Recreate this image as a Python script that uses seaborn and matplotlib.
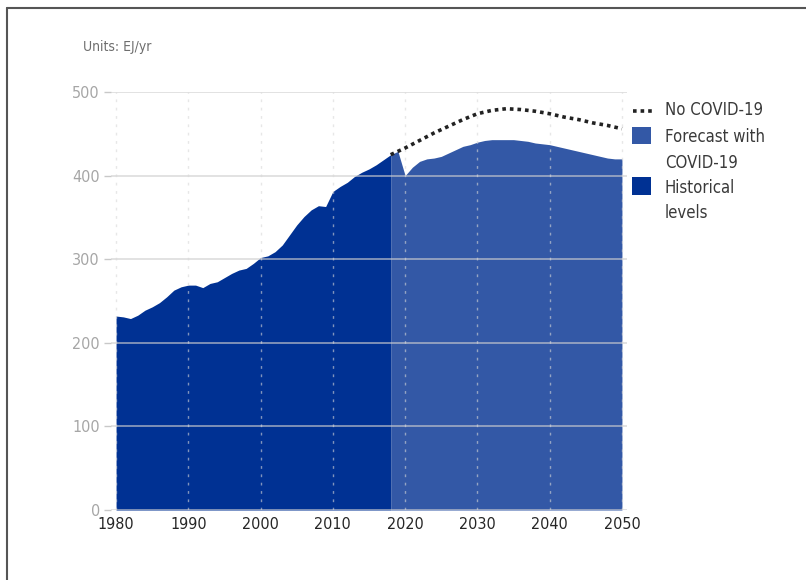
import matplotlib
matplotlib.use("Agg")
import matplotlib.pyplot as plt
from matplotlib.lines import Line2D
from matplotlib.patches import Rectangle
import seaborn as sns
import pandas as pd

# Primary energy demand, EJ/yr
hist_years = list(range(1980, 2019))
hist_values = [232, 231, 229, 233, 239, 243, 248, 255, 263, 267,
               269, 269, 266, 271, 273, 278, 283, 287, 289, 295,
               302, 304, 309, 317, 329, 341, 351, 359, 364, 363,
               381, 387, 392, 399, 404, 408, 413, 419, 425]

fc_years = list(range(2018, 2051))
fc_values = [425, 429, 400, 410, 417, 420, 421, 423, 427, 431,
             435, 437, 440, 442, 443, 443, 443, 443, 442, 441,
             439, 438, 437, 435, 433, 431, 429, 427, 425, 423,
             421, 420, 420]

nocovid_years = [2018, 2020, 2022, 2024, 2026, 2028, 2030, 2032, 2034,
                 2036, 2038, 2040, 2042, 2044, 2046, 2048, 2050]
nocovid_values = [425, 433, 442, 451, 459, 467, 474, 478, 480,
                  479, 477, 474, 470, 467, 463, 460, 456]

x_ticks = [1980, 1990, 2000, 2010, 2020, 2030, 2040, 2050]
y_ticks = [0, 100, 200, 300, 400, 500]

legend_labels = ["No COVID-19", "Forecast with\nCOVID-19", "Historical\nlevels"]

HIST_COLOR = "#003193"
FC_COLOR = "#3358a6"
LINE_COLOR = "#222222"
DOTS = (0, (1.0, 1.1))

sns.set_theme(style="white")
plt.rcParams["font.family"] = ["DejaVu Sans"]
plt.rcParams["font.stretch"] = "condensed"

W, H = 806, 580
fig = plt.figure(figsize=(W / 100, H / 100), dpi=100)
ax = fig.add_axes([111 / W, 70 / H, 516 / W, 418 / H])

hist = pd.DataFrame({"year": hist_years, "value": hist_values})
fc = pd.DataFrame({"year": fc_years, "value": fc_values})
nc = pd.DataFrame({"year": nocovid_years, "value": nocovid_values})

ax.fill_between(hist["year"], 0, hist["value"], color=HIST_COLOR, lw=0, zorder=1)
ax.fill_between(fc["year"], 0, fc["value"], color=FC_COLOR, lw=0, zorder=1)

sns.lineplot(data=nc, x="year", y="value", ax=ax, color=LINE_COLOR,
             lw=2.6, linestyle=DOTS, zorder=4, legend=False)

# grid drawn over the areas
for yv in y_ticks:
    ax.axhline(yv, color="#cfcfcf", lw=1.2, alpha=0.7, zorder=3)
for xv in range(1980, 2051, 10):
    ax.axvline(xv, color="#d8d8d8", lw=1.0, linestyle=(0, (2, 4)),
               alpha=0.6, zorder=3)

ax.set_xlim(1979.3, 2050.7)
ax.set_ylim(0, 500)
ax.set_xticks(x_ticks)
ax.set_yticks(y_ticks)
ax.set_xticklabels([str(v) for v in x_ticks], color="#262626", fontsize=11.5,
                   fontstretch="condensed")
ax.set_yticklabels([str(v) for v in y_ticks], color="#a6a6a6", fontsize=11.5,
                   fontstretch="condensed")
ax.tick_params(axis="y", length=5, width=1, color="#c8c8c8", pad=3, left=True)
ax.tick_params(axis="x", length=0, pad=5)
ax.set_xlabel("")
ax.set_ylabel("")
for s in ax.spines.values():
    s.set_visible(False)

fig.text(83 / W, 1 - 47 / H, "Units: EJ/yr", color="#6e6e6e",
         fontsize=10, va="center", ha="left")


def fx(px):
    return px / W


def fy(py):
    return 1 - py / H


# legend: key on the left, labels to the right, keys aligned with first line
leg_text_x = 665
line_step = 25.5
fig.add_artist(Line2D([fx(633), fx(652)], [fy(111), fy(111)],
                      transform=fig.transFigure, color=LINE_COLOR, lw=2.6,
                      linestyle=DOTS))
fig.add_artist(Rectangle((fx(632), fy(144)), fx(19), 17 / H,
                         transform=fig.transFigure, facecolor=FC_COLOR,
                         edgecolor="none"))
fig.add_artist(Rectangle((fx(632), fy(195)), fx(19), 18 / H,
                         transform=fig.transFigure, facecolor=HIST_COLOR,
                         edgecolor="none"))
first_line_y = [110, 137, 188]
for lab, y0 in zip(legend_labels, first_line_y):
    for i, part in enumerate(lab.split("\n")):
        fig.text(fx(leg_text_x), fy(y0 + i * line_step), part,
                 color="#3a3a3a", fontsize=12, ha="left", va="center")

# outer frame (top and left edges)
fig.add_artist(Line2D([fx(7), fx(7)], [0, fy(8)],
                      transform=fig.transFigure, color="#555555", lw=1.5))
fig.add_artist(Line2D([fx(7), 1], [fy(8), fy(8)],
                      transform=fig.transFigure, color="#555555", lw=1.5))

fig.savefig("out.png", dpi=100, facecolor="white")
